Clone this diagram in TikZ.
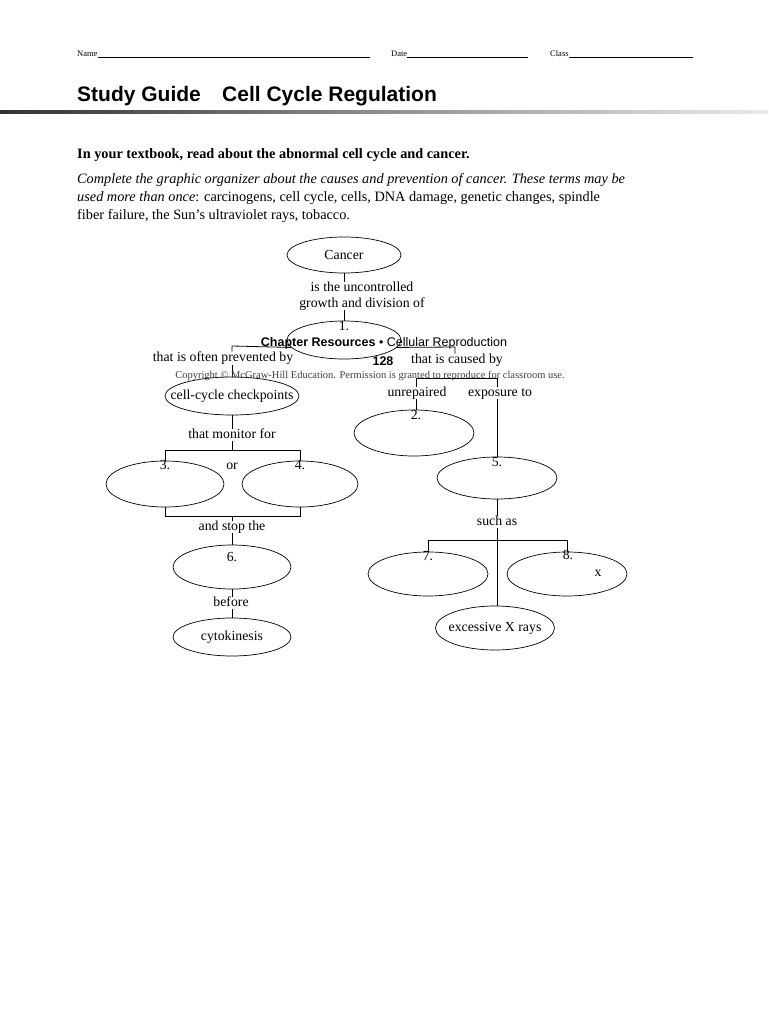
\documentclass[tikz,border=0pt]{standalone}
\usepackage{fontspec}
\setmainfont{Liberation Serif}
\newfontfamily\sansf{Liberation Sans}
\usetikzlibrary{shapes.geometric}
\begin{document}
\begin{tikzpicture}[x=1pt,y=-1pt,
  oval/.style={draw, ellipse, line width=0.7pt, inner sep=0pt},
  intext/.style={label={[font=\fontsize{13.8}{15}\selectfont, inner sep=0pt]center:#1}},
  lbl/.style={font=\fontsize{13.8}{15}\selectfont, inner sep=0pt, text height=9.5pt, text depth=3pt},
  conn/.style={line width=0.8pt},
  rule/.style={line width=0.6pt}]
\useasboundingbox (0,0) rectangle (768,1024);
\fill[white] (0,0) rectangle (768,1024);

% header
\node[anchor=base west, inner sep=0pt, font=\fontsize{8.5}{10}\selectfont] (name) at (77,57) {Name};
\draw[rule] (name.base east) -- (370,57);
\node[anchor=base west, inner sep=0pt, font=\fontsize{8.5}{10}\selectfont] (date) at (391,57) {Date};
\draw[rule] (date.base east) -- (528,57);
\node[anchor=base west, inner sep=0pt, font=\fontsize{8.5}{10}\selectfont] (class) at (550,57) {Class};
\draw[rule] (class.base east) -- (693,57);

\node[anchor=base west, inner sep=0pt, font=\sansf\bfseries\fontsize{21}{24}\selectfont] (sg) at (77,101.5) {Study Guide};
\node[anchor=base west, inner sep=0pt, font=\sansf\bfseries\fontsize{21}{24}\selectfont] (ccr) at (222,101.5) {Cell Cycle Regulation};
\shade[left color=black!80, right color=black!8] (0,110.5) rectangle (768,114);

% instructions
\node[anchor=base west, inner sep=0pt, font=\bfseries\fontsize{14.3}{17}\selectfont] (instr) at (77,158.5) {In your textbook, read about the abnormal cell cycle and cancer.};
\node[anchor=base west, inner sep=0pt, font=\fontsize{14.3}{18}\selectfont] (p1) at (77,183.5) {\itshape Complete the graphic organizer about the causes and prevention of cancer. These terms may be};
\node[anchor=base west, inner sep=0pt, font=\fontsize{14.3}{18}\selectfont] (p2) at (77,201.5) {\itshape used more than once\/\upshape: carcinogens, cell cycle, cells, DNA damage, genetic changes, spindle};
\node[anchor=base west, inner sep=0pt, font=\fontsize{14.3}{18}\selectfont] (p3) at (77,219.5) {fiber failure, the Sun’s ultraviolet rays, tobacco.};

% top of organizer
\node[oval, minimum width=114, minimum height=36, intext={Cancer}] (cancer) at (344,255) {};
\node[inner sep=0pt, align=center, font=\fontsize{13.8}{15.5}\selectfont] (t1) at (362,296) {is the uncontrolled\\growth and division of};
\node[oval, minimum width=114, minimum height=38] (e1) at (344,340) {};
\node[lbl] (n1) at (344,327) {1.};
\draw[conn] (cancer.south) -- (cancer.south |- t1.north);
\draw[conn] (e1.north |- t1.south) -- (e1.north);

% left branch
\node[lbl] (lp) at (223,358) {that is often prevented by};
\coordinate (lc) at (232,346);
\draw[conn] (e1.188) -- (lc) -- (lc |- lp.north);
\node[oval, minimum width=134, minimum height=38, intext={cell-cycle checkpoints}] (ccc) at (232,396) {};
\draw[conn] (ccc.north |- lp.south) ++(0,1) -- (ccc.north);
\node[lbl] (mon) at (232,435) {that monitor for};
\draw[conn] (ccc.south) -- (ccc.south |- mon.north);
\node[oval, minimum width=118, minimum height=46] (e3) at (165,484) {};
\node[oval, minimum width=116, minimum height=46] (e4) at (300,484) {};
\node[lbl] (n3) at (165,466) {3.};
\node[lbl] (n4) at (300,466) {4.};
\node[lbl] (or) at (232,466) {or};
\coordinate (tb) at (232,450);
\draw[conn] (tb |- mon.south) -- (tb);
\draw[conn] (e3.north) -- (e3.north |- tb) -- (e4.north |- tb) -- (e4.north);
\node[lbl] (stop) at (232,527) {and stop the};
\coordinate (bb) at (232,516);
\draw[conn] (e3.south) -- (e3.south |- bb) -- (e4.south |- bb) -- (e4.south);
\draw[conn] (bb) -- (bb |- stop.north);
\node[oval, minimum width=118, minimum height=44] (e6) at (232,567) {};
\node[lbl] (n6) at (232,558) {6.};
\draw[conn] (stop.south) -- (e6.north);
\node[lbl] (bef) at (231,603) {before};
\draw[conn] (e6.south) -- (e6.south |- bef.north);
\node[oval, minimum width=118, minimum height=38, intext={cytokinesis}] (cyto) at (232,637) {};
\draw[conn] (cyto.north |- bef.south) -- (cyto.north);

% right branch
\node[lbl] (rp) at (457,360) {that is caused by};
\coordinate (rc) at (455,347);
\draw[conn] (e1.-8) -- (rc) -- (rc |- rp.north);
\node[lbl] (unrep) at (417,393) {unrepaired};
\node[lbl] (expo) at (500,393) {exposure to};
\coordinate (ub) at (416,378);
\coordinate (eb) at (497,378);
\draw[conn] (ub |- unrep.north) -- (ub) -- (eb) -- (eb |- expo.north);
\node[oval, minimum width=120, minimum height=46] (e2) at (414,433) {};
\node[lbl] (n2) at (416,416) {2.};
\draw[conn] (e2.north -| ub) -- (ub |- unrep.south);
\node[oval, minimum width=120, minimum height=42] (e5) at (497,478) {};
\node[lbl] (n5) at (497,463) {5.};
\draw[conn] (eb |- expo.south) -- (e5.north);
\node[lbl] (such) at (497,522) {such as};
\draw[conn] (e5.south) -- (such.north);
\node[oval, minimum width=120, minimum height=44] (e7) at (428,574) {};
\node[oval, minimum width=120, minimum height=44] (e8) at (567,574) {};
\node[lbl] (n7) at (428,557) {7.};
\node[lbl] (n8) at (568,556) {8.};
\node[lbl] (xx) at (598,573) {x};
\node[oval, minimum width=119, minimum height=44, intext={excessive X rays}] (ex) at (495,628) {};
\draw[conn] (such.south) -- (ex.north -| such.south);
\coordinate (sb) at (497,540);
\draw[conn] (e7.north) -- (e7.north |- sb) -- (e8.north |- sb) -- (e8.north);

% overlapping footer text
\node[inner sep=0pt, font=\sansf\fontsize{12.5}{14}\selectfont] (chap) at (384,343) {\bfseries Chapter Resources \mdseries\textbullet{} Cellular Reproduction};
\node[inner sep=0pt, font=\sansf\bfseries\fontsize{12.5}{14}\selectfont] (pg) at (383,361) {128};
\node[inner sep=0pt, text=black!75, font=\fontsize{10.5}{12}\selectfont] (copy) at (370,376) {Copyright © McGraw-Hill Education. Permission is granted to reproduce for classroom use.};
\end{tikzpicture}
\end{document}
